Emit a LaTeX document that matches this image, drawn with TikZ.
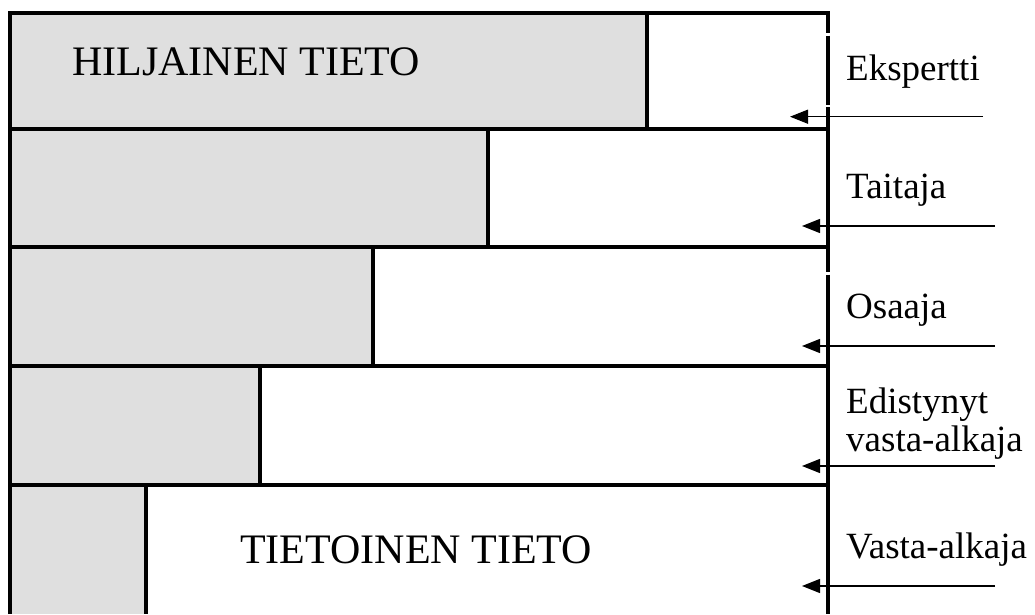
\documentclass[tikz,border=0pt]{standalone}
\usepackage{fontspec}
\setmainfont{Liberation Serif}
\usetikzlibrary{arrows.meta}
\definecolor{grayfill}{HTML}{DFDFDF}
\tikzset{
  frame/.style={line width=4.5pt, black},
  framethin/.style={line width=3.2pt, black},
  graybar/.style={fill=grayfill},
  pointer/.style={line width=1.4pt, -{Triangle[length=18pt,width=14pt]}},
  biglabel/.style={anchor=base west, inner sep=0pt, font=\fontsize{42}{46}\selectfont},
  levellabel/.style={anchor=base west, inner sep=0pt, align=left, font=\fontsize{37}{38}\selectfont},
}
\begin{document}
\begin{tikzpicture}[x=1pt, y=-1pt]
\useasboundingbox (0,0) rectangle (1035,614);
% gray parts
\fill[graybar] (10,13) rectangle (647,129);
\fill[graybar] (10,129) rectangle (488,247);
\fill[graybar] (10,247) rectangle (373,366);
\fill[graybar] (10,366) rectangle (260,485);
\fill[graybar] (10,485) rectangle (146,614);
% row separators and dividers
\draw[frame] (10,129) -- (828,129);
\draw[frame] (10,247) -- (828,247);
\draw[frame] (10,366) -- (828,366);
\draw[frame] (10,485) -- (828,485);
\draw[frame] (647,13) -- (647,129);
\draw[frame] (488,129) -- (488,247);
\draw[frame] (373,247) -- (373,366);
\draw[frame] (260,366) -- (260,485);
\draw[frame] (146,485) -- (146,614);
% outer frame
\draw[frame] (10,614) -- (10,13) -- (828,13) -- (828,33);
\draw[framethin] (828,35.5) -- (828,104.5);
\draw[frame] (828,107) -- (828,272);
\draw[framethin] (828,274.5) -- (828,345);
\draw[frame] (828,345) -- (828,614);
% big texts
\node[biglabel] (hil) at (72,75) {HILJAINEN TIETO};
\node[biglabel] (tie) at (240,563) {TIETOINEN TIETO};
% level labels
\node[levellabel] (l1) at (846,80) {Ekspertti};
\node[levellabel] (l2) at (846,198) {Taitaja};
\node[levellabel] (l3) at (846,318) {Osaaja};
\node[levellabel] (l4) at (846,451) {Edistynyt\\vasta-alkaja};
\node[levellabel] (l5) at (846,558) {Vasta-alkaja};
% arrows
\coordinate (s1) at (983,116.7); \coordinate (t1) at (790,116.7);
\coordinate (s2) at (995,226);   \coordinate (t2) at (802,226);
\coordinate (s3) at (995,346);   \coordinate (t3) at (802,346);
\coordinate (s4) at (995,466);   \coordinate (t4) at (802,466);
\coordinate (s5) at (995,586);   \coordinate (t5) at (802,586);
\draw[pointer] (s1) -- (t1);
\draw[pointer] (s2) -- (t2);
\draw[pointer] (s3) -- (t3);
\draw[pointer] (s4) -- (t4);
\draw[pointer] (s5) -- (t5);
\end{tikzpicture}
\end{document}
